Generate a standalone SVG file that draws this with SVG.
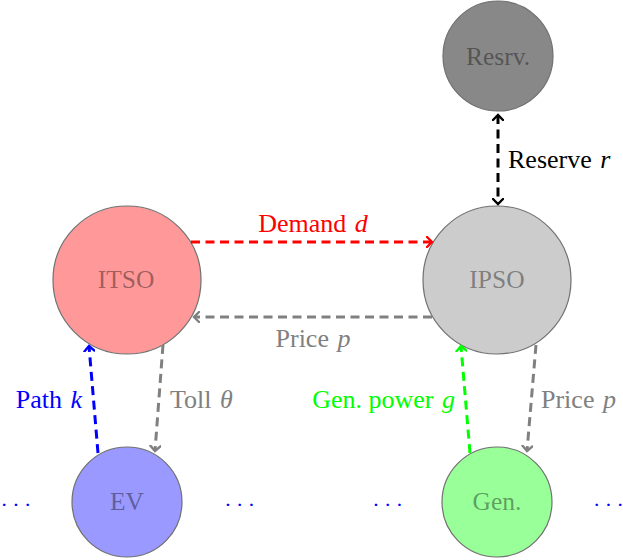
<svg xmlns="http://www.w3.org/2000/svg" width="623" height="560" viewBox="0 0 623 560">
<defs>
<marker id="ahr" viewBox="-6 -6 8 12" markerWidth="8" markerHeight="12" refX="0" refY="0" orient="auto-start-reverse" markerUnits="userSpaceOnUse"><path d="M-5,-5 Q-1,-1 0,0 Q-1,1 -5,5" fill="none" stroke="#ff0000" stroke-width="2.4" stroke-linecap="round"/></marker>
<marker id="ahg" viewBox="-6 -6 8 12" markerWidth="8" markerHeight="12" refX="0" refY="0" orient="auto-start-reverse" markerUnits="userSpaceOnUse"><path d="M-5,-5 Q-1,-1 0,0 Q-1,1 -5,5" fill="none" stroke="#808080" stroke-width="2.4" stroke-linecap="round"/></marker>
<marker id="ahk" viewBox="-6 -6 8 12" markerWidth="8" markerHeight="12" refX="0" refY="0" orient="auto-start-reverse" markerUnits="userSpaceOnUse"><path d="M-5,-5 Q-1,-1 0,0 Q-1,1 -5,5" fill="none" stroke="#000000" stroke-width="2.4" stroke-linecap="round"/></marker>
<marker id="ahb" viewBox="-6 -6 8 12" markerWidth="8" markerHeight="12" refX="0" refY="0" orient="auto-start-reverse" markerUnits="userSpaceOnUse"><path d="M-5,-5 Q-1,-1 0,0 Q-1,1 -5,5" fill="none" stroke="#0000ff" stroke-width="2.4" stroke-linecap="round"/></marker>
<marker id="ahn" viewBox="-6 -6 8 12" markerWidth="8" markerHeight="12" refX="0" refY="0" orient="auto-start-reverse" markerUnits="userSpaceOnUse"><path d="M-5,-5 Q-1,-1 0,0 Q-1,1 -5,5" fill="none" stroke="#00ff00" stroke-width="2.4" stroke-linecap="round"/></marker>
</defs>
<style>
.node circle { stroke: #707070; stroke-width: 1.2; }
.nt { font-family: "Liberation Serif", serif; font-size: 25.5px; text-anchor: middle; fill: #000; fill-opacity: 0.4; }
.lb { font-family: "Liberation Serif", serif; font-size: 26px; }
.lb tspan.v { font-style: italic; }
.e { fill: none; stroke-width: 3; stroke-dasharray: 9 5.5; }
.dots { font-family: "Liberation Serif", serif; font-size: 22px; fill: #0000ff; }
</style>
<g id="resrv" class="node"><circle cx="498" cy="56" r="55" fill="#888888"/><text class="nt" x="498" y="65">Resrv.</text></g>
<g id="itso" class="node"><circle cx="127" cy="280" r="74" fill="#ff9999"/><text class="nt" x="126" y="288">ITSO</text></g>
<g id="ipso" class="node"><circle cx="497" cy="280" r="74" fill="#cccccc"/><text class="nt" x="497" y="288">IPSO</text></g>
<g id="ev" class="node"><circle cx="127" cy="502" r="55" fill="#9999ff"/><text class="nt" x="127" y="510">EV</text></g>
<g id="gen" class="node"><circle cx="497" cy="502" r="55" fill="#99ff99"/><text class="nt" x="497" y="510">Gen.</text></g>
<g id="connectors">
<line class="e" x1="191" y1="242" x2="432" y2="242" stroke="#ff0000" marker-end="url(#ahr)"/>
<line class="e" x1="432" y1="317" x2="194" y2="317" stroke="#808080" marker-end="url(#ahg)"/>
<line class="e" x1="498" y1="115" x2="498" y2="204" stroke="#000000" marker-start="url(#ahk)" marker-end="url(#ahk)"/>
<line class="e" x1="98" y1="453" x2="89" y2="346" stroke="#0000ff" marker-end="url(#ahb)"/>
<line class="e" x1="163" y1="345" x2="155" y2="451" stroke="#808080" marker-end="url(#ahg)"/>
<line class="e" x1="470" y1="453" x2="461" y2="346" stroke="#00ff00" marker-end="url(#ahn)"/>
<line class="e" x1="536" y1="345" x2="527" y2="451" stroke="#808080" marker-end="url(#ahg)"/>
</g>
<g id="labels">
<text class="lb" x="313" y="232" text-anchor="middle" fill="#ff0000">Demand <tspan class="v" dx="2">d</tspan></text>
<text class="lb" x="313" y="347" text-anchor="middle" fill="#808080">Price <tspan class="v" dx="2">p</tspan></text>
<text class="lb" x="508" y="168" fill="#000000">Reserve <tspan class="v" dx="2">r</tspan></text>
<text class="lb" x="82" y="408" text-anchor="end" fill="#0000ff">Path <tspan class="v" dx="2">k</tspan></text>
<text class="lb" x="170" y="408" fill="#808080">Toll <tspan class="v" dx="2">θ</tspan></text>
<text class="lb" x="455" y="408" text-anchor="end" fill="#00ff00">Gen. power <tspan class="v" dx="2">g</tspan></text>
<text class="lb" x="541" y="408" fill="#808080">Price <tspan class="v" dx="2">p</tspan></text>
</g>
<g id="ellipses">
<text class="dots" x="0.6 12.3 24" y="512">···</text>
<text class="dots" x="224.3 236 247.7" y="512">···</text>
<text class="dots" x="372.3 384 395.7" y="512">···</text>
<text class="dots" x="593 604.7 616.4" y="512">···</text>
</g>
</svg>
